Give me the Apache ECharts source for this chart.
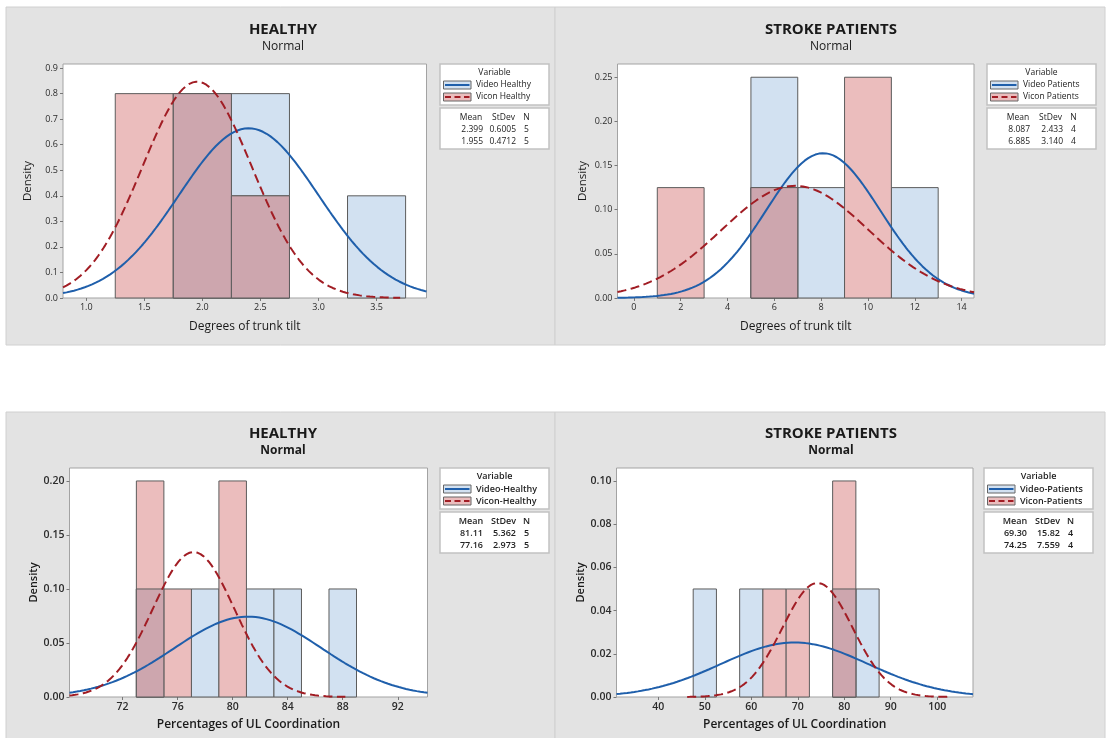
<!DOCTYPE html>
<html>
<head>
<meta charset="utf-8">
<title>Trunk tilt and UL coordination – histograms with normal fit</title>
<script src="https://cdn.jsdelivr.net/npm/echarts@6/dist/echarts.min.js"></script>
<style>
  html, body { margin: 0; padding: 0; background: #fff; }
  #chart { width: 1107px; height: 738px; }
</style>
</head>
<body>
<div id="chart"></div>
<script>
// ---------- Degrees of trunk tilt, healthy subjects ----------
const tiltHealthyBinStarts = [1.25, 1.75, 2.25, 2.75, 3.25];
const tiltHealthyBinWidth = 0.5;
const tiltHealthyVideo = [0, 0.8, 0.8, 0, 0.4];
const tiltHealthyVicon = [0.8, 0.8, 0.4, 0, 0];
const tiltHealthyMean = [2.399, 1.955];
const tiltHealthyStDev = [0.6005, 0.4712];
const tiltHealthyN = [5, 5];
const tiltHealthyNames = ['Video Healthy', 'Vicon Healthy'];
const tiltHealthyXTicks = [1.0, 1.5, 2.0, 2.5, 3.0, 3.5];
const tiltHealthyYTicks = [0, 0.1, 0.2, 0.3, 0.4, 0.5, 0.6, 0.7, 0.8, 0.9];

// ---------- Degrees of trunk tilt, stroke patients ----------
const tiltPatientsBinStarts = [1, 3, 5, 7, 9, 11];
const tiltPatientsBinWidth = 2;
const tiltPatientsVideo = [0, 0, 0.25, 0.125, 0, 0.125];
const tiltPatientsVicon = [0.125, 0, 0.125, 0, 0.25, 0];
const tiltPatientsMean = [8.087, 6.885];
const tiltPatientsStDev = [2.433, 3.140];
const tiltPatientsN = [4, 4];
const tiltPatientsNames = ['Video Patients', 'Vicon Patients'];
const tiltPatientsXTicks = [0, 2, 4, 6, 8, 10, 12, 14];
const tiltPatientsYTicks = [0, 0.05, 0.10, 0.15, 0.20, 0.25];

// ---------- Percentages of UL coordination, healthy subjects ----------
const ulHealthyBinStarts = [73, 75, 77, 79, 81, 83, 85, 87];
const ulHealthyBinWidth = 2;
const ulHealthyVideo = [0.1, 0, 0.1, 0, 0.1, 0.1, 0, 0.1];
const ulHealthyVicon = [0.2, 0.1, 0, 0.2, 0, 0, 0, 0];
const ulHealthyMean = [81.11, 77.16];
const ulHealthyStDev = [5.362, 2.973];
const ulHealthyN = [5, 5];
const ulHealthyNames = ['Video-Healthy', 'Vicon-Healthy'];
const ulHealthyXTicks = [72, 76, 80, 84, 88, 92];
const ulHealthyYTicks = [0, 0.05, 0.10, 0.15, 0.20];

// ---------- Percentages of UL coordination, stroke patients ----------
const ulPatientsBinStarts = [47.5, 52.5, 57.5, 62.5, 67.5, 72.5, 77.5, 82.5];
const ulPatientsBinWidth = 5;
const ulPatientsVideo = [0.05, 0, 0.05, 0, 0, 0, 0.05, 0.05];
const ulPatientsVicon = [0, 0, 0, 0.05, 0.05, 0, 0.1, 0];
const ulPatientsMean = [69.30, 74.25];
const ulPatientsStDev = [15.82, 7.559];
const ulPatientsN = [4, 4];
const ulPatientsNames = ['Video-Patients', 'Vicon-Patients'];
const ulPatientsXTicks = [40, 50, 60, 70, 80, 90, 100];
const ulPatientsYTicks = [0, 0.02, 0.04, 0.06, 0.08, 0.10];

// ---------- styling ----------
const FONT = '"Open Sans", "Noto Sans", sans-serif';
const VIDEO_FILL = '#d2e1f1';
const VICON_FILL = '#ebbdbd';
const BOTH_FILL = '#cda6ae';
const BAR_STROKE = '#5c5c5c';
const VIDEO_LINE = '#1f5fab';
const VICON_LINE = '#a11d24';
const PANEL_BG = '#e3e3e3';

const panels = [
  {
    title: 'HEALTHY', xName: 'Degrees of trunk tilt',
    starts: tiltHealthyBinStarts, width: tiltHealthyBinWidth,
    video: tiltHealthyVideo, vicon: tiltHealthyVicon,
    mean: tiltHealthyMean, sd: tiltHealthyStDev, n: tiltHealthyN, names: tiltHealthyNames,
    xTicks: tiltHealthyXTicks, yTicks: tiltHealthyYTicks, xDec: 1, yDec: 1,
    xMin: 0.8, xMax: 3.93, yMax: 0.916,
    box: [6, 7, 549, 338], titleX: 283, titleY: 30, subY: 47,
    grid: { left: 63, top: 64, width: 363.5, height: 234 },
    legend: [440, 64], bold: false
  },
  {
    title: 'STROKE PATIENTS', xName: 'Degrees of trunk tilt',
    starts: tiltPatientsBinStarts, width: tiltPatientsBinWidth,
    video: tiltPatientsVideo, vicon: tiltPatientsVicon,
    mean: tiltPatientsMean, sd: tiltPatientsStDev, n: tiltPatientsN, names: tiltPatientsNames,
    xTicks: tiltPatientsXTicks, yTicks: tiltPatientsYTicks, xDec: 0, yDec: 2,
    xMin: -0.7, xMax: 14.53, yMax: 0.265,
    box: [555, 7, 550, 338], titleX: 831, titleY: 30, subY: 47,
    grid: { left: 617.5, top: 64, width: 356.5, height: 234 },
    legend: [987, 64], bold: false
  },
  {
    title: 'HEALTHY', xName: 'Percentages of UL Coordination',
    starts: ulHealthyBinStarts, width: ulHealthyBinWidth,
    video: ulHealthyVideo, vicon: ulHealthyVicon,
    mean: ulHealthyMean, sd: ulHealthyStDev, n: ulHealthyN, names: ulHealthyNames,
    xTicks: ulHealthyXTicks, yTicks: ulHealthyYTicks, xDec: 0, yDec: 2,
    xMin: 68.14, xMax: 94.16, yMax: 0.212,
    box: [6, 412, 549, 340], titleX: 283, titleY: 434, subY: 451,
    grid: { left: 69.5, top: 468, width: 358, height: 229 },
    legend: [440, 468], bold: true
  },
  {
    title: 'STROKE PATIENTS', xName: 'Percentages of UL Coordination',
    starts: ulPatientsBinStarts, width: ulPatientsBinWidth,
    video: ulPatientsVideo, vicon: ulPatientsVicon,
    mean: ulPatientsMean, sd: ulPatientsStDev, n: ulPatientsN, names: ulPatientsNames,
    xTicks: ulPatientsXTicks, yTicks: ulPatientsYTicks, xDec: 0, yDec: 2,
    xMin: 31, xMax: 107.7, yMax: 0.106,
    box: [555, 412, 550, 340], titleX: 831, titleY: 434, subY: 451,
    grid: { left: 616.5, top: 468, width: 356.5, height: 229 },
    legend: [984, 468], bold: true
  }
];

// Normal density for the stated mean and standard deviation,
// drawn over mean ± 3.71 sd and clipped to the axis range.
function normalFit(mean, sd, xMin, xMax) {
  const lo = Math.max(xMin, mean - 3.71 * sd);
  const hi = Math.min(xMax, mean + 3.71 * sd);
  const pts = [];
  const steps = 200;
  for (let i = 0; i <= steps; i++) {
    const x = lo + (hi - lo) * i / steps;
    const z = (x - mean) / sd;
    pts.push([x, Math.exp(-0.5 * z * z) / (sd * Math.sqrt(2 * Math.PI))]);
  }
  return pts;
}

function barItems(starts, width, heights) {
  const out = [];
  starts.forEach((s, i) => { if (heights[i] > 0) out.push([s, s + width, heights[i]]); });
  return out;
}

function overlapItems(starts, width, a, b) {
  const out = [];
  starts.forEach((s, i) => {
    const h = Math.min(a[i], b[i]);
    if (h > 0) out.push([s, s + width, h]);
  });
  return out;
}

function rectRenderer(fill) {
  return function (params, api) {
    const top = api.coord([api.value(0), api.value(2)]);
    const bottom = api.coord([api.value(1), 0]);
    return {
      type: 'rect',
      shape: { x: top[0], y: top[1], width: bottom[0] - top[0], height: bottom[1] - top[1] },
      style: { fill: fill, stroke: BAR_STROKE, lineWidth: 1 }
    };
  };
}

const grids = [], xAxes = [], yAxes = [], series = [], graphics = [];

panels.forEach((p, k) => {
  const fw = p.bold ? 600 : 'normal';
  const tickSize = p.bold ? 10.5 : 9;

  // panel background
  graphics.push({
    type: 'rect', z: -10, silent: true,
    shape: { x: p.box[0], y: p.box[1], width: p.box[2], height: p.box[3] },
    style: { fill: PANEL_BG, stroke: '#d0d0d0', lineWidth: 1 }
  });
  // title and subtitle
  graphics.push({
    type: 'text', z: 5, silent: true,
    style: { x: p.titleX, y: p.titleY, text: p.title, textAlign: 'center', textVerticalAlign: 'middle',
      font: `bold 15px ${FONT}`, fill: '#1a1a1a' }
  });
  graphics.push({
    type: 'text', z: 5, silent: true,
    style: { x: p.titleX, y: p.subY, text: 'Normal', textAlign: 'center', textVerticalAlign: 'middle',
      font: `${p.bold ? 'bold' : 'normal'} 12px ${FONT}`, fill: '#1a1a1a' }
  });

  grids.push(Object.assign({ show: true, backgroundColor: '#fff', borderColor: '#a3a3a3', borderWidth: 1 }, p.grid));

  xAxes.push({
    type: 'value', gridIndex: k, min: p.xMin, max: p.xMax,
    name: p.xName, nameLocation: 'middle', nameGap: p.bold ? 22 : 23,
    nameTextStyle: { fontFamily: FONT, fontSize: p.bold ? 12 : 12, fontWeight: fw, color: '#1a1a1a' },
    axisLine: { show: false, onZero: false },
    splitLine: { show: false },
    axisTick: { show: true, customValues: p.xTicks, length: 3, lineStyle: { color: '#777' } },
    axisLabel: { customValues: p.xTicks, margin: 5, fontFamily: FONT, fontSize: tickSize, fontWeight: fw,
      color: '#2b2b2b', formatter: v => v.toFixed(p.xDec) }
  });
  yAxes.push({
    type: 'value', gridIndex: k, min: 0, max: p.yMax,
    name: 'Density', nameLocation: 'middle', nameGap: p.bold ? 30 : 29, nameRotate: 90,
    nameTextStyle: { fontFamily: FONT, fontSize: p.bold ? 11 : 11.5, fontWeight: fw, color: '#1a1a1a' },
    axisLine: { show: false, onZero: false },
    splitLine: { show: false },
    axisTick: { show: true, customValues: p.yTicks, length: 3, lineStyle: { color: '#777' } },
    axisLabel: { customValues: p.yTicks, margin: 5, fontFamily: FONT, fontSize: tickSize, fontWeight: fw,
      color: '#2b2b2b', formatter: v => v.toFixed(p.yDec) }
  });

  const common = { type: 'custom', xAxisIndex: k, yAxisIndex: k, encode: { x: [0, 1], y: 2 }, silent: true };
  series.push(Object.assign({ name: p.names[0], data: barItems(p.starts, p.width, p.video), renderItem: rectRenderer(VIDEO_FILL), z: 1 }, common));
  series.push(Object.assign({ name: p.names[1], data: barItems(p.starts, p.width, p.vicon), renderItem: rectRenderer(VICON_FILL), z: 2 }, common));
  series.push(Object.assign({ name: 'both', data: overlapItems(p.starts, p.width, p.video, p.vicon), renderItem: rectRenderer(BOTH_FILL), z: 3 }, common));

  series.push({
    type: 'line', xAxisIndex: k, yAxisIndex: k, z: 5, silent: true, showSymbol: false,
    data: normalFit(p.mean[0], p.sd[0], p.xMin, p.xMax),
    lineStyle: { color: VIDEO_LINE, width: 2 }
  });
  series.push({
    type: 'line', xAxisIndex: k, yAxisIndex: k, z: 6, silent: true, showSymbol: false,
    data: normalFit(p.mean[1], p.sd[1], p.xMin, p.xMax),
    lineStyle: { color: VICON_LINE, width: 2, type: [9, 4.5] }
  });

  // legend: variable box
  const [lx, ly] = p.legend;
  const lw = 109;
  const lfs = p.bold ? 9 : 8.5;
  const lfont = `${fw} ${lfs}px ${FONT}`;
  graphics.push({
    type: 'rect', z: 5, silent: true,
    shape: { x: lx, y: ly, width: lw, height: 41 },
    style: { fill: '#fff', stroke: '#c2c2c2', lineWidth: 1.5 }
  });
  graphics.push({
    type: 'text', z: 6, silent: true,
    style: { x: lx + lw / 2, y: ly + 8.5, text: 'Variable', textAlign: 'center', textVerticalAlign: 'middle', font: lfont, fill: '#222' }
  });
  [0, 1].forEach(j => {
    const cy = ly + 21 + 12 * j;
    graphics.push({
      type: 'rect', z: 6, silent: true,
      shape: { x: lx + 3.5, y: cy - 4, width: 27.5, height: 8 },
      style: { fill: j === 0 ? VIDEO_FILL : VICON_FILL, stroke: '#666', lineWidth: 1 }
    });
    graphics.push({
      type: 'line', z: 7, silent: true,
      shape: { x1: lx + 5, y1: cy, x2: lx + 29.5, y2: cy },
      style: j === 0 ? { stroke: VIDEO_LINE, lineWidth: 2 } : { stroke: VICON_LINE, lineWidth: 2, lineDash: [6, 3.5] }
    });
    graphics.push({
      type: 'text', z: 6, silent: true,
      style: { x: lx + 36, y: cy, text: p.names[j], textAlign: 'left', textVerticalAlign: 'middle', font: lfont, fill: '#222' }
    });
  });

  // legend: statistics box
  const sy = ly + 44;
  graphics.push({
    type: 'rect', z: 5, silent: true,
    shape: { x: lx, y: sy, width: lw, height: 41 },
    style: { fill: '#fff', stroke: '#c2c2c2', lineWidth: 1.5 }
  });
  const headers = [['Mean', 31], ['StDev', 63.5], ['N', 86.5]];
  headers.forEach(([t, dx]) => {
    graphics.push({
      type: 'text', z: 6, silent: true,
      style: { x: lx + dx, y: sy + 9.5, text: t, textAlign: 'center', textVerticalAlign: 'middle', font: lfont, fill: '#222' }
    });
  });
  [0, 1].forEach(j => {
    const ry = sy + 21.5 + 12 * j;
    const cells = [
      [p.mean[j].toPrecision(4), lx + 43, 'right'],
      [p.sd[j].toPrecision(4), lx + 76, 'right'],
      [String(p.n[j]), lx + 86.5, 'center']
    ];
    cells.forEach(([t, x, al]) => {
      graphics.push({
        type: 'text', z: 6, silent: true,
        style: { x: x, y: ry, text: t, textAlign: al, textVerticalAlign: 'middle', font: lfont, fill: '#222' }
      });
    });
  });
});

const chart = echarts.init(document.getElementById('chart'), null, { renderer: 'canvas' });
chart.setOption({
  backgroundColor: '#ffffff',
  animation: false,
  grid: grids,
  xAxis: xAxes,
  yAxis: yAxes,
  series: series,
  graphic: { elements: graphics }
});
</script>
</body>
</html>
